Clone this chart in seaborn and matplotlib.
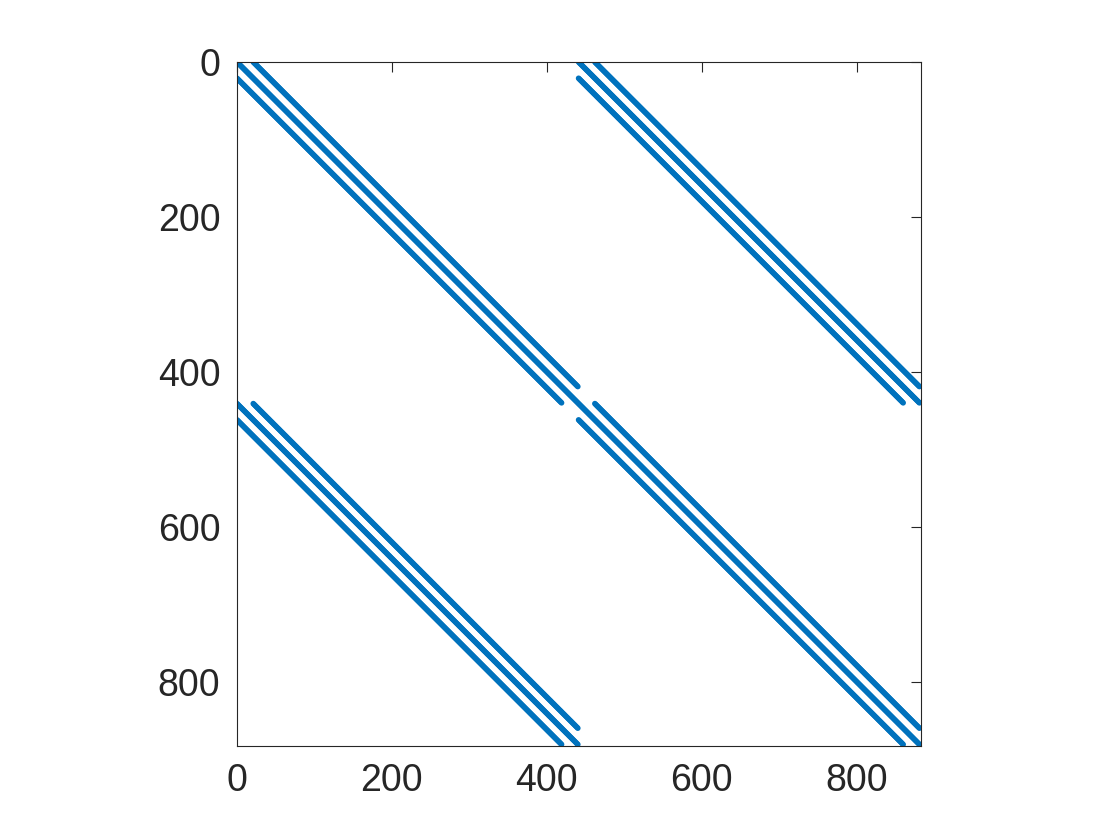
import numpy as np
import pandas as pd
import seaborn as sns
import matplotlib.pyplot as plt

# sparsity pattern: 2x2 blocks of size 441 (21x21 grid), each block banded
grid_n = 21
block_n = grid_n * grid_n
offsets = [0, grid_n, -grid_n]
block_rows = [0, 0, 1, 1]
block_cols = [0, 1, 0, 1]

rows, cols = [], []
for br, bc in zip(block_rows, block_cols):
    for k in offsets:
        i = np.arange(max(0, -k), min(block_n, block_n - k))
        rows.append(br * block_n + i)
        cols.append(bc * block_n + i + k)
df = pd.DataFrame({'row': np.concatenate(rows), 'col': np.concatenate(cols)})
n = 2 * block_n

sns.set_style('white')
plt.rcParams['font.family'] = ['Liberation Sans', 'DejaVu Sans']

fig = plt.figure(figsize=(11.2, 8.4), dpi=100)
ax = fig.add_axes([0.2116, 0.1119, 0.6107, 0.8143])
sns.scatterplot(data=df, x='col', y='row', color='#0072BD', s=16,
                edgecolor='none', linewidth=0, marker='o', ax=ax, legend=False)

ax.set_xlim(0, n + 1)
ax.set_ylim(n + 1, 0)
ax.set_aspect('equal')
ax.set_xticks([0, 200, 400, 600, 800])
ax.set_yticks([0, 200, 400, 600, 800])
ax.set_xlabel('')
ax.set_ylabel('')
ax.tick_params(direction='in', length=7, width=0.8, colors='#262626',
               labelsize=27, top=True, right=True, pad=12)
for sp in ax.spines.values():
    sp.set_color('#262626')
    sp.set_linewidth(0.8)

fig.savefig('out.png', dpi=100)
